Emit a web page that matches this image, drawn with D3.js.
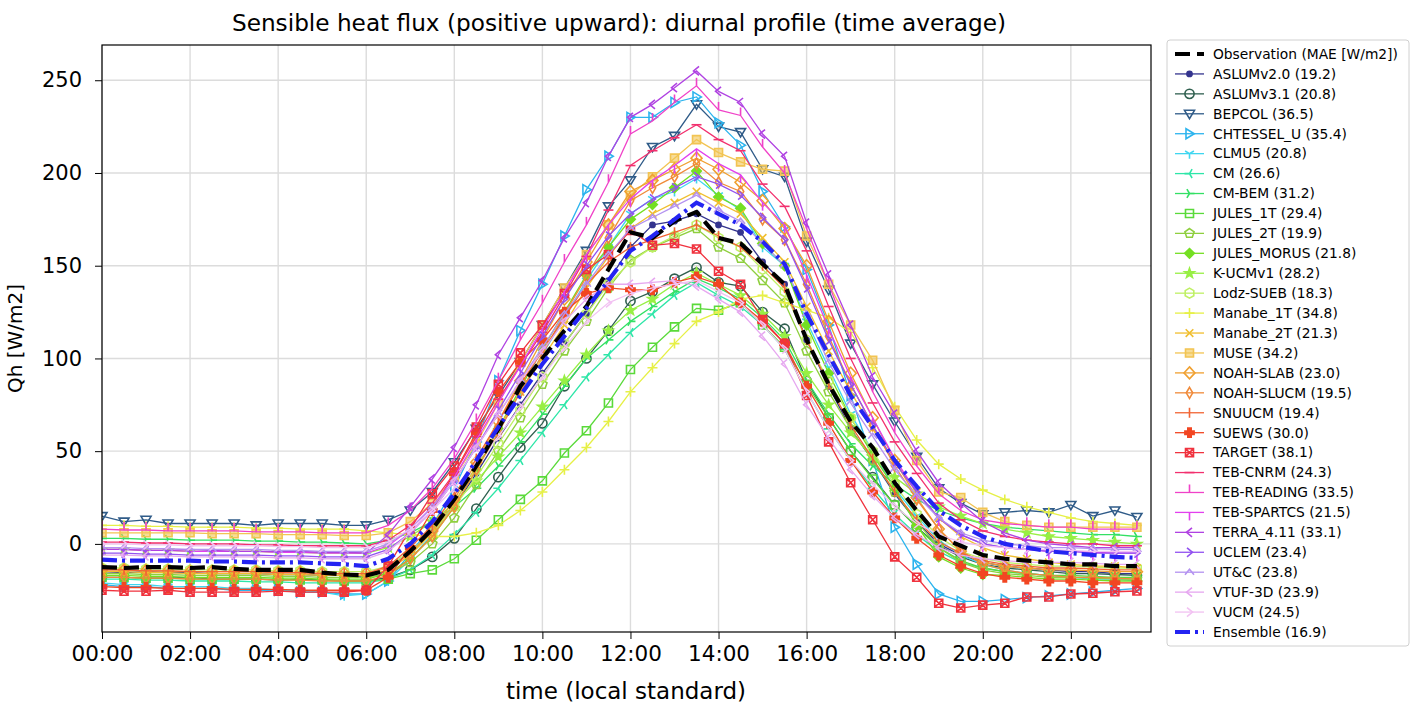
<!DOCTYPE html>
<html lang="en">
  <head>
    <meta charset="UTF-8" />
    <title>Sensible heat flux diurnal profile</title>
    <style>
      body { margin: 0; background: #fff; }
      text { font-family: "DejaVu Sans", sans-serif; fill: #000; }
      .grid line { stroke: #dcdcdc; stroke-width: 1.4; }
      .axis path, .axis line { stroke: #000; }
    </style>
  </head>
  <body>
    <svg width="1416" height="704"></svg>
    <script src="https://d3js.org/d3.v7.min.js"></script>
    <script>
      // half-hourly time of day (hours), 00:00 .. 23:30
      const hours = d3.range(0, 24, 0.5);
      const tickHours = [0, 2, 4, 6, 8, 10, 12, 14, 16, 18, 20, 22];
      const tickLabels = ["00:00", "02:00", "04:00", "06:00", "08:00", "10:00", "12:00", "14:00", "16:00", "18:00", "20:00", "22:00"];
      const yTicks = [0, 50, 100, 150, 200, 250];

      const obsQh = [-12.5,-13,-12.5,-12.5,-13,-12.5,-13.5,-14,-14,-14,-15.5,-16.5,-17,
        -14,-4,8,24,42,62,85,100,115,128,148,
        168,165,174,179,165,162,151,140,110,86,66,52,33,18,4,-1,
        -6,-8,-9,-10,-11,-11,-12,-12];
      const ensembleQh = [-8.5,-9,-9,-9,-9,-9.5,-9.5,-10,-10,-10,-10.5,-11,-12,
        -8,0,12,27,45,63,80,97,112,127,142,
        158,166,175,184,178,172,163,151,124,102,80,63,45,31,18,10,
        4,0,-2,-4,-5,-6,-7,-7.5];

      const aslum20 = [-15,-15.5,-15,-15.5,-15.5,-16,-16,-16,-16.5,-16.5,-17,-17,-18,
        -14,-4,6,20,38,57,75,92,108,124,142,
        160,172,174,178,172,168,152,140,110,85,62,45,27,12,0,-6,
        -10,-12,-13,-14,-15,-15,-16,-16];
      const aslum31 = [-18,-18,-18.5,-18.5,-18,-19,-19,-19,-19.5,-19,-19.5,-20,-20,
        -18,-14,-7,3,19,36,52,65,85,100,115,
        131,136,143,149,141,139,125,116,88,68,50,36,21,9,-1,-7,
        -11,-13,-14,-15,-16,-16,-16.5,-17];
      const bepcol = [15,12,13,11,11,11,11,10,11,11,11,10,10,
        13,18,28,44,62,80,98,118,138,158,182,
        196,214,220,237,225,222,202,198,163,137,108,86,66,47,30,22,
        16,17,18,17,21,15,18,14.5];
      const chtessel = [-22,-23,-23,-24,-24,-24,-25,-25,-25,-26,-26,-27,-27,
        -20,-5,10,30,55,88,115,140,166,191,209,
        230,230,238,241,227,215,190,171,148,118,80,45,9,-11,-27,-31,
        -31,-30,-29,-28,-27,-26,-25,-24];
      const clmu5 = [-21,-22,-22,-23,-23,-23,-24,-24,-25,-25,-26,-28,-27,
        -20,-8,5,22,42,62,82,102,122,142,160,
        178,186,190,197,188,180,160,150,120,95,70,50,30,15,2,-6,
        -11,-14,-16,-17,-18,-19,-19,-20];
      const cm = [-19,-19,-19.5,-19.5,-20,-20,-20,-20.5,-20.5,-21,-21,-21,-21,
        -19,-14,-6,5,17,30,45,60,75,90,102,
        114,124,134,141,134,128,118,105,82,62,45,30,16,5,-4,-10,
        -13,-15,-16,-17,-18,-18,-18.5,-19];
      const cmBem = [3,3,2.5,2.5,2,2,2,1.5,1.5,1,1,0.5,0,
        2,6,12,20,30,42,55,70,85,100,110,
        120,128,136,143,138,132,122,110,88,70,54,42,32,24,18,14,
        11,9,8,7,6,5,5,4];
      const jules1t = [-18,-18,-18.5,-18.5,-19,-19,-19,-19,-19,-19.5,-19.5,-20,-20,
        -19,-16,-14,-8,2,13,24,34,49,61,76,
        94,106,117,127,126,130,118,106,86,68,50,35,21,9,-2,-9,
        -13,-15,-16,-17,-17,-17.5,-18,-18];
      const jules2t = [-16,-16,-16.5,-16.5,-17,-17,-17,-17,-17.5,-17.5,-18,-18,-18,
        -16,-10,0,14,32,50,68,86,104,120,138,
        153,160,165,170,160,154,142,130,104,82,62,45,28,12,-2,-10,
        -14,-16,-17,-18,-18,-18.5,-19,-19];
      const julesMorus = [-17,-17,-17.5,-17.5,-18,-18,-18,-18,-18.5,-18.5,-19,-19,-19,
        -16,-8,4,20,40,62,84,105,125,145,160,
        175,183,192,201,187,181,162,150,118,92,68,48,30,10,-7,-13,
        -16.5,-17,-18,-19,-19,-19.5,-20,-20];
      const kucm = [-3,-3,-3.5,-3.5,-4,-4,-4,-4,-4.5,-4.5,-5,-5,-5,
        -2,4,12,22,34,47,60,74,88,102,115,
        126,132,140,146,140,134,124,112,92,75,60,47,36,27,20,15,
        11,8,6,4,3,2,1,0];
      const lodz = [-13,-13,-13.5,-13.5,-14,-14,-14,-14,-14.5,-14.5,-15,-15,-15,
        -12,-4,6,20,36,54,72,90,108,124,140,
        152,160,166,172,165,160,148,136,110,88,68,50,32,16,4,-4,
        -8,-10,-11,-12,-12,-12.5,-13,-13];
      const manabe1t = [10,10,9.5,9.5,9,9,9,8.5,8.5,8,8,8,7,
        6,5,4,4,6,10,18,28,40,52,66,
        82,95,108,120,125,132,134,130,126,122,114,95,74,56,43,35,
        29,24,20,17,14,12,11,10];
      const manabe2t = [-15,-15,-15.5,-15.5,-16,-16,-16,-16,-16.5,-16.5,-17,-17,-17,
        -14,-6,6,22,42,62,82,100,118,138,155,
        170,178,184,190,184,178,165,152,128,104,82,62,44,28,14,4,
        -2,-6,-8,-10,-11,-12,-12,-13];
      const muse = [6,6,6,6,6,5.5,5.5,5.5,5,5,5,4.5,4.5,
        6,12,22,36,54,76,98,118,138,156,172,
        188,198,208,218,211,206,202,201,166,140,118,99,72,45,28,25,
        17,12,10,9,9,9,9,9];
      const noahSlab = [-14,-14,-14.5,-14.5,-15,-15,-15,-15,-15.5,-15.5,-16,-16,-16,
        -13,-5,7,24,44,66,88,110,132,152,172,
        190,196,202,208,202,195,185,170,150,120,92,68,45,25,8,-4,
        -10,-12,-13,-14,-14,-14.5,-15,-15];
      const noahSlucm = [-18,-18,-18.5,-18.5,-19,-19,-19,-19,-19.5,-19.5,-20,-20,-20,
        -17,-8,4,20,40,60,82,102,124,144,165,
        185,192,198,205,195,190,175,164,140,112,86,64,42,24,8,-4,
        -11,-14,-16,-17,-18,-18,-18.5,-19];
      const snuucm = [-14,-14,-14.5,-14.5,-15,-15,-15,-15,-15.5,-15.5,-16,-16,-16,
        -12,-2,10,26,46,66,86,104,122,140,152,
        160,164,168,172,166,160,150,138,110,86,64,46,28,13,1,-5,
        -9,-11,-12,-13,-13,-13.5,-14,-14];
      const suews = [-23,-23.5,-23.5,-24,-24,-24,-24.5,-24.5,-24.5,-25,-25,-25,-25,
        -18,-2,18,38,60,82,98,110,125,135,138,
        137,137,141,144,140,130,120,108,85,65,45,28,14,3,-6,-12,
        -16,-18,-19,-20,-20,-21,-21,-21];
      const target = [-25,-25.5,-25.5,-25,-26,-26,-26,-26,-25.5,-26,-26,-26,-25,
        -12,8,27,42,63,86,103,118,135,148,156,
        169,161,162,159,147,140,121,108,80,55,33,13,-7,-18,-32,-34.6,
        -33,-32,-28.6,-28.6,-27,-26.6,-25.8,-25.4];
      const tebCnrm = [1,1,0.5,0.5,0,0,0,-0.5,-0.5,-1,-1,-1,-1,
        2,10,22,38,58,78,96,114,134,155,180,
        204,212,219,226,218,212,194,182,158,128,100,76,55,38,22,13,
        7,4,2,1,0,0,-1,-1];
      const tebReading = [8,7.5,7.5,7,7,7,7,6.5,6.5,6.5,6,6,6,
        10,18,30,46,66,88,110,130,152,172,195,
        221,228,238,247,234,231,214,200,170,140,110,82,60,42,27,18,
        13,11,10,9,9,8,8,8];
      const tebSpartcs = [-3,-3,-3.5,-3.5,-4,-4,-4,-4,-4.5,-4.5,-5,-5,-5,
        -1,8,20,36,56,76,96,116,136,156,172,
        186,196,204,213,205,199,184,172,145,116,90,68,46,28,14,5,
        0,-2,-3,-4,-4,-4.5,-5,-5];
      const terra = [-3,-3,-3.5,-3.5,-3,-3.5,-4,-4,-4,-4,-4.5,-4.5,-5,
        5,20,35,52,75,102,122,142,165,184,209,
        230,237,246,255,244,238,221,209,173,145,118,90,70,50,33,22,
        12,6,2,0,-1,-2,-2,-2];
      const uclem = [-5,-5,-5.5,-5.5,-6,-6,-6,-6,-6.5,-6.5,-7,-7,-7,
        -3,6,18,34,52,72,92,112,132,150,166,
        178,186,192,198,194,188,176,164,138,110,86,64,44,28,14,5,
        0,-2,-3,-4,-4,-5,-5,-5];
      const utc = [-2,-2,-2.5,-2.5,-3,-3,-3,-3,-3.5,-3.5,-4,-4,-4,
        0,8,20,34,52,70,88,106,124,140,156,
        170,176,182,188,180,174,162,150,124,98,76,58,40,26,14,6,
        2,0,-1,-2,-2,-2.5,-3,-3];
      const vtuf = [-6,-6,-6.5,-6.5,-7,-7,-7,-7,-7.5,-7.5,-8,-8,-8,
        -4,6,18,34,52,70,88,104,120,132,140,
        140,141,142,139,132,125,112,97,75,57,40,26,14,5,-2,-6,
        -8,-9,-10,-10,-10,-10.5,-11,-11];
      const vucm = [0,0,-0.5,-0.5,-1,-1,-1,-1,-1.5,-1.5,-2,-2,-2,
        1,8,18,30,44,58,74,90,106,120,130,
        135,138,140,142,136,130,118,105,82,62,45,32,20,11,5,1,
        -1,-2,-3,-3,-3.5,-4,-4,-4];

      const modelNames = ["ASLUMv2.0", "ASLUMv3.1", "BEPCOL", "CHTESSEL_U", "CLMU5", "CM", "CM-BEM",
        "JULES_1T", "JULES_2T", "JULES_MORUS", "K-UCMv1", "Lodz-SUEB", "Manabe_1T", "Manabe_2T",
        "MUSE", "NOAH-SLAB", "NOAH-SLUCM", "SNUUCM", "SUEWS", "TARGET", "TEB-CNRM", "TEB-READING",
        "TEB-SPARTCS", "TERRA_4.11", "UCLEM", "UT&C", "VTUF-3D", "VUCM"];
      const modelMae = ["19.2", "20.8", "36.5", "35.4", "20.8", "26.6", "31.2", "29.4", "19.9", "21.8",
        "28.2", "18.3", "34.8", "21.3", "34.2", "23.0", "19.5", "19.4", "30.0", "38.1", "24.3",
        "33.5", "21.5", "33.1", "23.4", "23.8", "23.9", "24.5"];
      const modelValues = [aslum20, aslum31, bepcol, chtessel, clmu5, cm, cmBem, jules1t, jules2t,
        julesMorus, kucm, lodz, manabe1t, manabe2t, muse, noahSlab, noahSlucm, snuucm, suews, target,
        tebCnrm, tebReading, tebSpartcs, terra, uclem, utc, vtuf, vucm];
      const modelColors = ["#34348e", "#2f5f4f", "#2f5b88", "#2cb4ee", "#3fd6f0", "#2ee6a8", "#33e064",
        "#5ada3a", "#8fcf3f", "#74df22", "#98ef44", "#bff064", "#e6f046", "#f0be2e", "#f2c452",
        "#f0a030", "#f08a3a", "#f26434", "#f24622", "#f0323e", "#f2306e", "#f042c8", "#e240ee",
        "#b042e2", "#9252f0", "#b492f0", "#e6a8f0", "#f2c2f2"];
      const modelMarkers = ["dot", "circle", "triDown", "triRight", "tri1", "tri3", "tri4", "square",
        "pentagon", "diamondFilled", "star", "hexagon", "plus", "cross", "squareThick", "diamond",
        "thinDiamond", "vline", "plusFilled", "squareX", "hline", "tickUp", "tickDown", "caretLeft",
        "caretRight", "caretUp", "caretLeft", "caretRight"];

      const svg = d3.select("svg");
      const margin = { left: 102, right: 1151, top: 45, bottom: 632 };

      const x = d3.scaleLinear().domain([0, 23.82]).range([margin.left, margin.right]);
      const y = d3.scaleLinear().domain([-47.5, 269]).range([margin.bottom, margin.top]);

      // grid
      const grid = svg.append("g").attr("class", "grid");
      grid.selectAll(".gx").data(tickHours).enter().append("line")
        .attr("x1", (d) => x(d)).attr("x2", (d) => x(d))
        .attr("y1", margin.top).attr("y2", margin.bottom);
      grid.selectAll(".gy").data(yTicks).enter().append("line")
        .attr("x1", margin.left).attr("x2", margin.right)
        .attr("y1", (d) => y(d)).attr("y2", (d) => y(d));

      const symbols = {
        dot: { d: "M2.6,0A2.6,2.6 0 1,1 -2.6,0A2.6,2.6 0 1,1 2.6,0Z", fill: true },
        circle: { d: "M4.6,0A4.6,4.6 0 1,1 -4.6,0A4.6,4.6 0 1,1 4.6,0Z", fill: false },
        triDown: { d: "M-5,-3.5L5,-3.5L0,4.8Z", fill: false },
        triRight: { d: "M-3.5,-5L4.8,0L-3.5,5Z", fill: false },
        tri1: { d: "M0,0V5M0,0L-4.4,-2.6M0,0L4.4,-2.6", fill: false },
        tri3: { d: "M0,0H-5M0,0L2.6,-4.4M0,0L2.6,4.4", fill: false },
        tri4: { d: "M0,0H5M0,0L-2.6,-4.4M0,0L-2.6,4.4", fill: false },
        square: { d: "M-4,-4H4V4H-4Z", fill: false },
        pentagon: { d: "M0,-4.8L4.6,-1.5L2.8,3.9L-2.8,3.9L-4.6,-1.5Z", fill: false },
        diamondFilled: { d: "M0,-4.8L4.8,0L0,4.8L-4.8,0Z", fill: true },
        star: { d: "M0,-5L1.2,-1.6L4.8,-1.5L1.9,0.6L2.9,4L0,2L-2.9,4L-1.9,0.6L-4.8,-1.5L-1.2,-1.6Z", fill: true },
        hexagon: { d: "M0,-5L4.3,-2.5L4.3,2.5L0,5L-4.3,2.5L-4.3,-2.5Z", fill: false },
        plus: { d: "M-5,0H5M0,-5V5", fill: false },
        cross: { d: "M-3.8,-3.8L3.8,3.8M3.8,-3.8L-3.8,3.8", fill: false },
        squareThick: { d: "M-4,-4H4V4H-4Z", fill: true },
        diamond: { d: "M0,-6L5.5,0L0,6L-5.5,0Z", fill: false },
        thinDiamond: { d: "M0,-5.5L3.2,0L0,5.5L-3.2,0Z", fill: false },
        vline: { d: "M0,-5V5", fill: false },
        plusFilled: { d: "M-1.7,-4.6H1.7V-1.7H4.6V1.7H1.7V4.6H-1.7V1.7H-4.6V-1.7H-1.7Z", fill: true },
        squareX: { d: "M-4,-4H4V4H-4ZM-4,-4L4,4M4,-4L-4,4", fill: false },
        hline: { d: "M-5,0H5", fill: false },
        tickUp: { d: "M0,0V-8", fill: false },
        tickDown: { d: "M0,0V8", fill: false },
        caretLeft: { d: "M2.5,-4.5L-3,0L2.5,4.5", fill: false },
        caretRight: { d: "M-2.5,-4.5L3,0L-2.5,4.5", fill: false },
        caretUp: { d: "M-4.5,2.5L0,-3L4.5,2.5", fill: false }
      };

      const line = d3.line().x((d, i) => x(hours[i])).y((d) => y(d));

      svg.append("defs").append("clipPath").attr("id", "plotclip")
        .append("rect").attr("x", margin.left).attr("y", margin.top)
        .attr("width", margin.right - margin.left).attr("height", margin.bottom - margin.top);

      const plot = svg.append("g").attr("clip-path", "url(#plotclip)");

      modelValues.forEach((vals, k) => {
        const g = plot.append("g");
        const c = modelColors[k];
        const sym = symbols[modelMarkers[k]];
        g.append("path").datum(vals).attr("d", line)
          .attr("fill", "none").attr("stroke", c).attr("stroke-width", 1.3);
        g.selectAll("path.m").data(vals).enter().append("path")
          .attr("class", "m")
          .attr("transform", (d, i) => `translate(${x(hours[i])},${y(d)})`)
          .attr("d", sym.d)
          .attr("fill", sym.fill ? c : "none")
          .attr("fill-opacity", modelMarkers[k] === "squareThick" ? 0.6 : 1)
          .attr("stroke", c).attr("stroke-width", 1.6);
      });

      plot.append("path").datum(obsQh).attr("d", line)
        .attr("fill", "none").attr("stroke", "#000").attr("stroke-width", 4.2)
        .attr("stroke-dasharray", "15,7");
      plot.append("path").datum(ensembleQh).attr("d", line)
        .attr("fill", "none").attr("stroke", "#2424f2").attr("stroke-width", 4.2)
        .attr("stroke-dasharray", "15,5,3,5");

      // frame and axes
      svg.append("rect").attr("x", margin.left).attr("y", margin.top)
        .attr("width", margin.right - margin.left).attr("height", margin.bottom - margin.top)
        .attr("fill", "none").attr("stroke", "#000").attr("stroke-width", 1.2);

      const xAxis = svg.append("g").attr("class", "axis")
        .attr("transform", `translate(0,${margin.bottom})`)
        .call(d3.axisBottom(x).tickValues(tickHours).tickFormat((d, i) => tickLabels[i]).tickSize(7).tickSizeOuter(0));
      xAxis.select(".domain").remove();
      xAxis.selectAll("text").attr("font-size", 21.5).attr("y", 12).attr("dy", "0.8em")
        .style("font-family", "DejaVu Sans");

      const yAxis = svg.append("g").attr("class", "axis")
        .attr("transform", `translate(${margin.left},0)`)
        .call(d3.axisLeft(y).tickValues(yTicks).tickSize(7).tickSizeOuter(0));
      yAxis.select(".domain").remove();
      yAxis.selectAll("text").attr("font-size", 21).attr("x", -20)
        .style("font-family", "DejaVu Sans");

      svg.append("text").attr("x", 619).attr("y", 31)
        .attr("text-anchor", "middle").attr("font-size", 23.2)
        .text("Sensible heat flux (positive upward): diurnal profile (time average)");
      svg.append("text").attr("x", 626).attr("y", 699)
        .attr("text-anchor", "middle").attr("font-size", 23)
        .text("time (local standard)");
      svg.append("text").attr("transform", `translate(22,${(margin.top + margin.bottom) / 2}) rotate(-90)`)
        .attr("text-anchor", "middle").attr("font-size", 20)
        .text("Qh [W/m2]");

      // legend
      const legend = svg.append("g");
      legend.append("rect").attr("x", 1167).attr("y", 40).attr("width", 242).attr("height", 606)
        .attr("rx", 3).attr("fill", "#fff").attr("stroke", "#d0d0d0").attr("stroke-width", 1);
      const entries = [{ name: "Observation (MAE [W/m2])", type: "obs" }]
        .concat(modelNames.map((n, k) => ({ name: `${n} (${modelMae[k]})`, type: "model", k })))
        .concat([{ name: "Ensemble (16.9)", type: "ens" }]);
      const legendY = d3.scaleLinear().domain([0, entries.length - 1]).range([54, 632]);
      entries.forEach((e, i) => {
        const ly = legendY(i);
        const g = legend.append("g").attr("transform", `translate(0,${ly})`);
        if (e.type === "obs") {
          g.append("line").attr("x1", 1175).attr("x2", 1204).attr("y1", 0).attr("y2", 0)
            .attr("stroke", "#000").attr("stroke-width", 4.2).attr("stroke-dasharray", "15,7");
        } else if (e.type === "ens") {
          g.append("line").attr("x1", 1175).attr("x2", 1204).attr("y1", 0).attr("y2", 0)
            .attr("stroke", "#2424f2").attr("stroke-width", 4.2).attr("stroke-dasharray", "15,5,3,5");
        } else {
          const c = modelColors[e.k];
          const sym = symbols[modelMarkers[e.k]];
          g.append("line").attr("x1", 1175).attr("x2", 1204).attr("y1", 0).attr("y2", 0)
            .attr("stroke", c).attr("stroke-width", 1.3);
          g.append("path").attr("transform", "translate(1189.5,0)").attr("d", sym.d)
            .attr("fill", sym.fill ? c : "none")
            .attr("fill-opacity", modelMarkers[e.k] === "squareThick" ? 0.6 : 1)
            .attr("stroke", c).attr("stroke-width", 1.6);
        }
        g.append("text").attr("x", 1213).attr("y", 0).attr("dy", "0.35em")
          .attr("font-size", 13.8).text(e.name);
      });
    </script>
  </body>
</html>
